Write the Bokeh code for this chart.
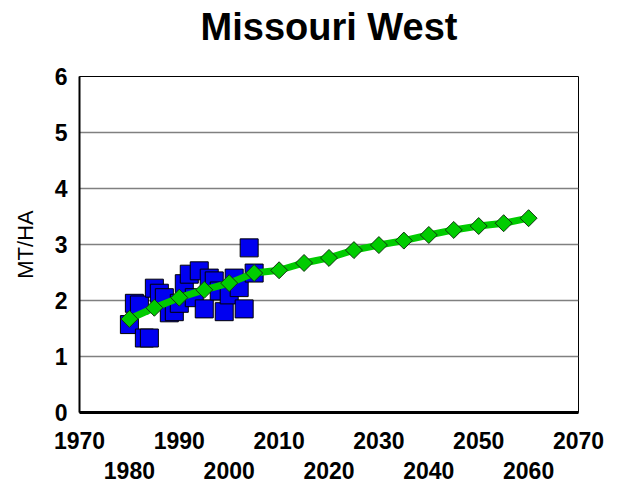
import math
from bokeh.plotting import figure
from bokeh.models import LinearAxis, FixedTicker, Range1d, Title, ColumnDataSource
from bokeh.embed import file_html
from bokeh.resources import INLINE

# Observed yields (blue squares)
obs_years = [1980, 1981, 1982, 1983, 1984, 1985, 1986, 1987, 1988, 1989,
             1990, 1991, 1992, 1993, 1994, 1995, 1996, 1997, 1998, 1999,
             2000, 2001, 2002, 2003, 2004, 2005]
obs_yield = [1.57, 1.95, 1.92, 1.33, 1.33, 2.22, 2.13, 2.05, 1.78, 1.80,
             1.95, 2.30, 2.47, 2.05, 2.53, 1.85, 2.40, 2.35, 2.17, 1.80,
             2.10, 2.40, 2.23, 1.85, 2.94, 2.49]

# Trend / projection (green diamonds)
trend_years = [1980, 1985, 1990, 1995, 2000, 2005, 2010, 2015, 2020, 2025,
               2030, 2035, 2040, 2045, 2050, 2055, 2060]
trend_yield = [1.67, 1.87, 2.05, 2.19, 2.31, 2.49, 2.54, 2.67, 2.76, 2.90,
               2.99, 3.07, 3.17, 3.26, 3.33, 3.38, 3.47]

x_ticks_row1 = [1970, 1990, 2010, 2030, 2050, 2070]
x_ticks_row2 = [1980, 2000, 2020, 2040, 2060]
y_ticks = [0, 1, 2, 3, 4, 5, 6]
title_text = "Missouri West"

FONT = "Liberation Sans"

p = figure(width=610, height=484, x_range=Range1d(1970, 2070), y_range=Range1d(0, 6),
           output_backend="svg", toolbar_location=None, x_axis_location=None,
           min_border_left=79, min_border_right=32, min_border_top=75, min_border_bottom=72)
p.title.text = ""

# spacer between the frame and the title (first "above" item sits next to the frame)
p.add_layout(Title(text=" ", text_font=FONT, text_font_size="14px", standoff=4), "above")
p.add_layout(Title(text=title_text, align="center", text_font=FONT,
                   text_font_size="38px", text_font_style="bold", standoff=10,
                   vertical_align="top", text_color="black"), "above")

p.outline_line_color = "black"
p.outline_line_width = 1
p.xgrid.visible = False
p.ygrid.ticker = FixedTicker(ticks=y_ticks)
p.ygrid.grid_line_color = "#808080"
p.ygrid.grid_line_width = 1.5

ya = p.yaxis[0]
ya.ticker = FixedTicker(ticks=y_ticks)
ya.axis_label = "MT/HA"
ya.axis_label_text_font = FONT
ya.axis_label_text_font_size = "22px"
ya.axis_label_text_font_style = "normal"
ya.axis_label_text_color = "black"
ya.axis_label_standoff = 14
ya.major_label_text_font = FONT
ya.major_label_text_font_size = "23px"
ya.major_label_text_font_style = "bold"
ya.major_label_text_color = "black"
ya.major_label_standoff = 12
ya.major_tick_out = 0
ya.major_tick_in = 0
ya.minor_tick_out = 0
ya.minor_tick_in = 0
ya.axis_line_width = 2
ya.axis_line_color = "black"

x1 = LinearAxis(ticker=FixedTicker(ticks=x_ticks_row1))
x1.major_label_text_font = FONT
x1.major_label_text_font_size = "23px"
x1.major_label_text_font_style = "bold"
x1.major_label_text_color = "black"
x1.major_label_standoff = 19
x1.major_tick_out = 0
x1.major_tick_in = 0
x1.minor_tick_out = 0
x1.minor_tick_in = 0
x1.axis_line_width = 3
x1.axis_line_color = "black"
p.add_layout(x1, "below")

x2 = LinearAxis(ticker=FixedTicker(ticks=x_ticks_row2))
x2.major_label_text_font = FONT
x2.major_label_text_font_size = "23px"
x2.major_label_text_font_style = "bold"
x2.major_label_text_color = "black"
x2.major_label_standoff = 10
x2.major_tick_out = 0
x2.major_tick_in = 0
x2.minor_tick_out = 0
x2.minor_tick_in = 0
x2.axis_line_color = None
p.add_layout(x2, "below")

obs = ColumnDataSource(dict(x=obs_years, y=obs_yield))
trend = ColumnDataSource(dict(x=trend_years, y=trend_yield))

p.scatter("x", "y", source=obs, marker="square", size=18,
          fill_color="#0000F0", line_color="black", line_width=1)
p.line("x", "y", source=trend, line_color="#00CC00", line_width=7)
p.scatter("x", "y", source=trend, marker="square", size=12, angle=math.pi / 4,
          fill_color="#00CC00", line_color="#113311", line_width=1)

open("out.html", "w").write(file_html(p, INLINE))
